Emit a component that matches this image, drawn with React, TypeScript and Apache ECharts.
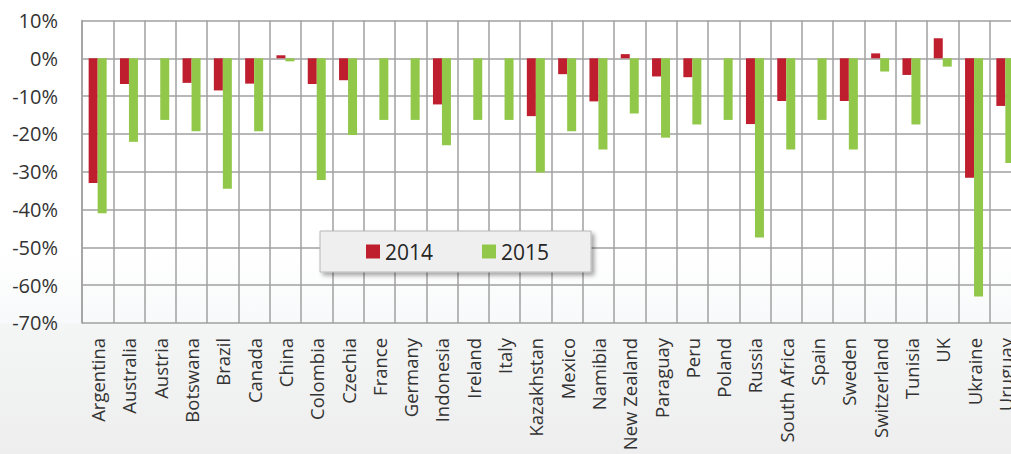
import React, { useEffect, useRef } from "react";
import * as echarts from "echarts";

const categories = [
  "Argentina", "Australia", "Austria", "Botswana", "Brazil", "Canada", "China",
  "Colombia", "Czechia", "France", "Germany", "Indonesia", "Ireland", "Italy",
  "Kazakhstan", "Mexico", "Namibia", "New Zealand", "Paraguay", "Peru", "Poland",
  "Russia", "South Africa", "Spain", "Sweden", "Switzerland", "Tunisia", "UK",
  "Ukraine", "Uruguay",
];

const values2014: (number | null)[] = [
  -33, -6.8, null, -6.5, -8.5, -6.7, 0.8,
  -6.8, -5.8, null, null, -12.2, null, null,
  -15.3, -4.2, -11.4, 1.1, -4.8, -5.0, null,
  -17.4, -11.3, null, -11.3, 1.3, -4.4, 5.3,
  -31.6, -12.6,
];

const values2015: number[] = [
  -41, -22.1, -16.3, -19.3, -34.5, -19.3, -0.8,
  -32.2, -20.3, -16.3, -16.3, -23.0, -16.3, -16.3,
  -30.2, -19.3, -24.1, -14.6, -21.0, -17.5, -16.3,
  -47.4, -24.1, -16.3, -24.1, -3.5, -17.5, -2.2,
  -63, -27.7,
];

const seriesNames = ["2014", "2015"];
const yMin = -70;
const yMax = 10;
const yStep = 10;

const FONT = "'Open Sans', 'Noto Sans', sans-serif";

export default function App() {
  const ref = useRef<HTMLDivElement>(null);

  useEffect(() => {
    if (!ref.current) return;
    const chart = echarts.init(ref.current, null, { renderer: "svg" });
    const gridColor = "#a0a0a0";
    chart.setOption({
      animation: false,
      backgroundColor: {
        type: "linear",
        x: 0, y: 0, x2: 0, y2: 1,
        colorStops: [
          { offset: 0, color: "#ffffff" },
          { offset: 0.55, color: "#ffffff" },
          { offset: 0.71, color: "#f8f9fa" },
          { offset: 0.715, color: "#f4f5f5" },
          { offset: 1, color: "#eeeeee" },
        ],
      },
      grid: { left: 82, top: 20.5, width: 939, height: 302.4, containLabel: false },
      legend: {
        left: 320,
        top: 231,
        orient: "horizontal",
        data: seriesNames,
        icon: "rect",
        itemWidth: 14,
        itemHeight: 14,
        itemGap: 47,
        padding: [10, 40, 10, 46],
        backgroundColor: "#efefef",
        borderColor: "#b8b8b8",
        borderWidth: 1,
        shadowBlur: 4,
        shadowColor: "rgba(0,0,0,0.35)",
        shadowOffsetX: 3,
        shadowOffsetY: 3,
        textStyle: { fontFamily: FONT, fontSize: 21, color: "#262626", width: 50, lineHeight: 20 },
      },
      xAxis: {
        type: "category",
        data: categories,
        boundaryGap: true,
        position: "bottom",
        axisLine: { show: false, onZero: false },
        axisTick: { show: false },
        splitLine: { show: true, lineStyle: { color: gridColor, width: 1.5 } },
        axisLabel: {
          interval: 0,
          rotate: 90,
          margin: 15,
          fontFamily: FONT,
          fontSize: 18.5,
          color: "#333333",
        },
      },
      yAxis: {
        type: "value",
        min: yMin,
        max: yMax,
        interval: yStep,
        axisLine: { show: true, lineStyle: { color: gridColor, width: 1.5 } },
        axisTick: { show: false },
        splitLine: { show: true, lineStyle: { color: gridColor, width: 1.5 } },
        axisLabel: {
          formatter: "{value}%",
          margin: 24,
          fontFamily: FONT,
          fontSize: 20,
          color: "#333333",
        },
      },
      series: [
        {
          name: seriesNames[0],
          type: "bar",
          data: values2014,
          barWidth: 9,
          barGap: "0%",
          itemStyle: { color: "#be1e2d" },
        },
        {
          name: seriesNames[1],
          type: "bar",
          data: values2015,
          barWidth: 9,
          barGap: "0%",
          itemStyle: { color: "#92c84a" },
        },
      ],
    });
    return () => chart.dispose();
  }, []);

  return (
    <div style={{ position: "fixed", left: 0, top: 0, width: 1011, height: 454, overflow: "hidden" }}>
      <div ref={ref} style={{ width: 1040, height: 454 }} />
    </div>
  );
}
